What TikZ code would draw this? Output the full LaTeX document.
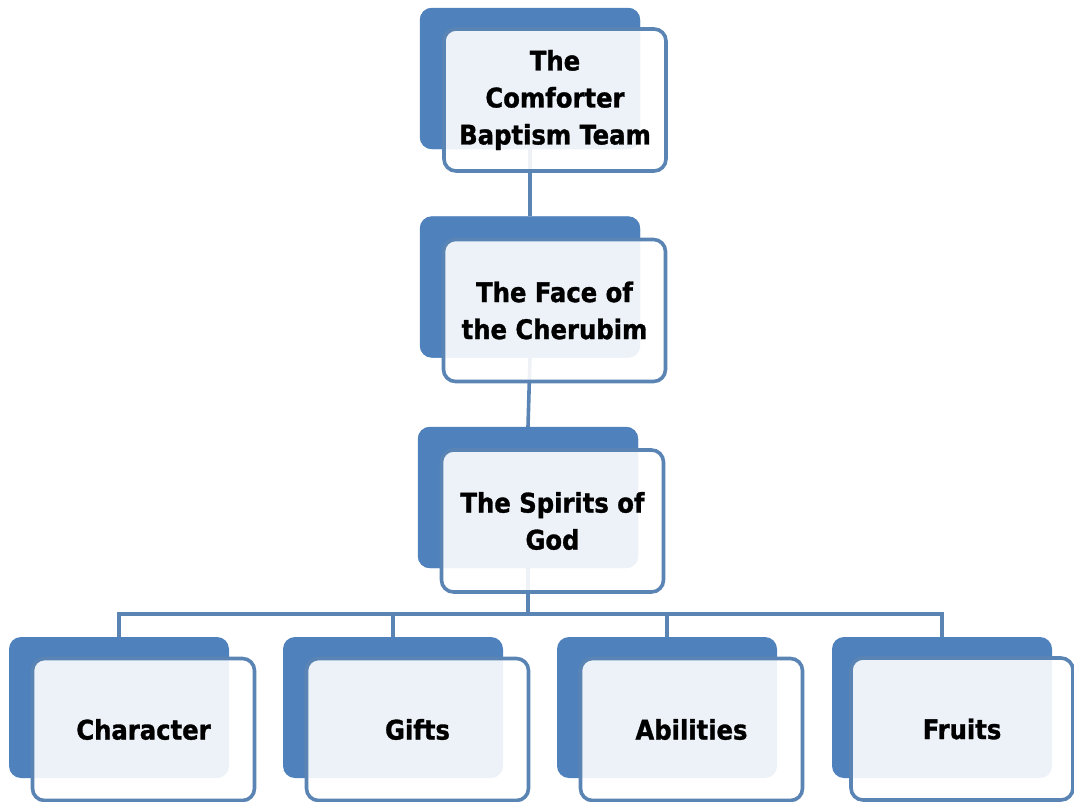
\documentclass[tikz,border=0pt]{standalone}
\usepackage{fontspec}
\setmainfont{DejaVu Sans Condensed}[BoldFeatures={FakeBold=1.2}]
\begin{document}
\begin{tikzpicture}[x=1pt,y=-1pt,
  backbox/.style={fill=backblue, draw=none, rounded corners=12pt, minimum width=220pt, minimum height=141pt, inner sep=0pt},
  frontbox/.style={fill=white, fill opacity=0.9, text opacity=1, draw=lineblue, line width=3.6pt, rounded corners=12pt, minimum width=222pt, minimum height=142pt, inner sep=0pt, align=center, font=\fontsize{27}{37}\selectfont\bfseries},
  conn/.style={draw=lineblue, line width=3.6pt}]
\definecolor{backblue}{HTML}{4F81BD}
\definecolor{lineblue}{HTML}{5A84B3}
\useasboundingbox (0,0) rectangle (1074,801);
% back boxes
\node[backbox] (d1) at (530,78.5) {};
\node[backbox] (d2) at (530,287) {};
\node[backbox] (d3) at (528,497.5) {};
\node[backbox] (d4) at (119,707.5) {};
\node[backbox] (d5) at (393,707.5) {};
\node[backbox] (d6) at (667,707.5) {};
\node[backbox] (d7) at (942,707.5) {};
% connectors
\coordinate (bus) at (0,614);
\draw[conn] (d1.south) -- (d2.north);
\draw[conn] (d2.south) -- (d3.north);
\draw[conn] (d3.south) -- (d3.south |- bus);
\draw[conn] (d4.north) -- (d4.north |- bus) -- (d7.north |- bus) -- (d7.north);
\draw[conn] (d5.north) -- (d5.north |- bus);
\draw[conn] (d6.north) -- (d6.north |- bus);
% redraw back boxes over connector ends
\fill[backblue, rounded corners=12pt] (d1.south west) rectangle (d1.north east);
\fill[backblue, rounded corners=12pt] (d2.south west) rectangle (d2.north east);
\fill[backblue, rounded corners=12pt] (d3.south west) rectangle (d3.north east);
% front boxes
\node[frontbox] (f1) at (555,100) {The\\Comforter\\Baptism Team};
\node[frontbox] (f2) at (554.5,310.5) {The Face of\\the Cherubim};
\node[frontbox] (f3) at (552.5,521) {The Spirits of\\God};
\node[frontbox] (f4) at (143.5,729.5) {Character};
\node[frontbox] (f5) at (417.5,729.5) {Gifts};
\node[frontbox] (f6) at (691.5,729.5) {Abilities};
\node[frontbox] (f7) at (962,729) {Fruits};
\end{tikzpicture}
\end{document}
